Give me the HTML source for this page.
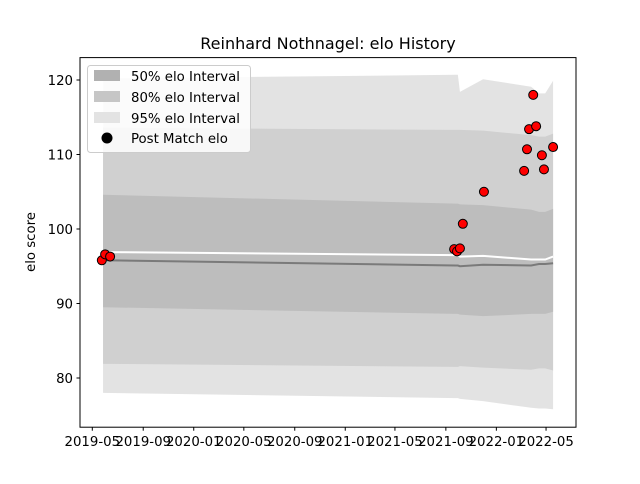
<!DOCTYPE html>
<html><head><meta charset="utf-8"><style>
body{margin:0;background:#fff;font-family:"DejaVu Sans",sans-serif}
svg text{font-family:"DejaVu Sans","Liberation Sans",sans-serif}
</style></head><body>
<svg id="c" width="640" height="480" xmlns="http://www.w3.org/2000/svg">
<rect width="640" height="480" fill="#fff"/>
<g id="plot"></g>
<rect x="80" y="57.6" width="496" height="369.6" fill="none" stroke="#000" stroke-width="1"/>
<g id="xt"></g>
<g id="yt"></g>
<text x="328" y="49" font-size="16" text-anchor="middle">Reinhard Nothnagel: elo History</text>
<text transform="translate(35,242) rotate(-90)" font-size="13.3" text-anchor="middle">elo score</text>
<g>
<rect x="87.5" y="65.5" width="163" height="87" rx="3" fill="#fff" fill-opacity="0.85" stroke="#ccc"/>
<rect x="94" y="70" width="26" height="11" fill="#b1b1b1"/>
<text x="131" y="81" font-size="13.3">50% elo Interval</text>
<rect x="94" y="91" width="26" height="11" fill="#c6c6c6"/>
<text x="131" y="102" font-size="13.3">80% elo Interval</text>
<rect x="94" y="112" width="26" height="11" fill="#e3e3e3"/>
<text x="131" y="123" font-size="13.3">95% elo Interval</text>
<circle cx="107" cy="138" r="5.5" fill="#000"/>
<text x="131" y="143" font-size="13.3">Post Match elo</text>
</g>
</svg>
<script>
const bandDays=[26,878,883,888,944,1060,1079,1094,1113];
const up95=[120.2,120.7,120.7,118.4,120.1,119.1,118.2,118.2,119.9];
const up80=[113.6,113.3,113.3,113.3,113.2,112.6,112.4,112.4,112.8];
const up50=[104.6,103.4,103.4,103.3,103.2,102.6,102.3,102.3,102.7];
const meanL=[95.8,95.1,95.1,95.0,95.2,95.1,95.3,95.3,95.4];
const postL=[96.9,96.5,96.5,96.3,96.4,95.9,95.9,95.9,96.3];
const lo50=[89.5,88.6,88.6,88.5,88.3,88.6,88.6,88.6,88.9];
const lo80=[81.9,81.5,81.5,81.6,81.4,81.1,81.3,81.3,81.0];
const lo95=[78.0,77.3,77.3,77.2,76.9,76.0,75.9,75.9,75.8];
const matchDates=["2019-05-24","2019-06-01","2019-06-13","2021-09-21","2021-09-28","2021-10-05","2021-10-12","2021-12-02","2022-03-09","2022-03-16","2022-03-21","2022-03-31","2022-04-07","2022-04-21","2022-04-26","2022-05-18"];
const matchElo=[95.8,96.6,96.3,97.3,97.0,97.4,100.7,105.0,107.8,110.7,113.4,118.0,113.8,109.9,108.0,111.0];
const xTicks=["2019-05","2019-09","2020-01","2020-05","2020-09","2021-01","2021-05","2021-09","2022-01","2022-05"];
const yTicks=[80,90,100,110,120];
const base=Date.UTC(2019,4,1);
const dayOf=s=>{const p=s.split("-");return (Date.UTC(+p[0],+p[1]-1,+(p[2]||1))-base)/864e5;};
const X=d=>92.3+d*0.414;
const Y=v=>378-(v-80)*7.45;
const NS="http://www.w3.org/2000/svg";
const plot=document.getElementById("plot");
function mk(t,a,parent){const e=document.createElementNS(NS,t);for(const k in a)e.setAttribute(k,a[k]);parent.appendChild(e);return e;}
function band(u,l,fill,name){
 let d="M"+bandDays.map((dd,i)=>X(dd)+","+Y(u[i])).join("L");
 d+="L"+bandDays.map((dd,i)=>X(dd)+","+Y(l[i])).reverse().join("L")+"Z";
 const e=mk("path",{d:d,fill:fill},plot);
 
 
}
band(up95,lo95,"#e3e3e3","band-95");
band(up80,lo80,"#d0d0d0","band-80");
band(up50,lo50,"#bdbdbd","band-50");
function line(v,col,name){
 const e=mk("polyline",{points:bandDays.map((dd,i)=>X(dd)+","+Y(v[i])).join(" "),fill:"none",stroke:col,"stroke-width":2},plot);
 
 
}
line(meanL,"#7a7a7a","mean-elo-line");
line(postL,"#ffffff","post-elo-line");
matchDates.forEach((s,i)=>{
 const c=mk("circle",{cx:X(dayOf(s)),cy:Y(matchElo[i]),r:4.5,fill:"#f00",stroke:"#000","stroke-width":1},plot);
 
 
});
const xt=document.getElementById("xt"),yt=document.getElementById("yt");
xTicks.forEach(s=>{
 const x=X(dayOf(s));
 mk("line",{x1:x,x2:x,y1:427.2,y2:430.7,stroke:"#000"},xt);
 const t=mk("text",{x:x,y:446,"font-size":13.3,"text-anchor":"middle"},xt);
 t.textContent=s;
 
 
});
yTicks.forEach(v=>{
 const y=Y(v);
 mk("line",{x1:76.5,x2:80,y1:y,y2:y,stroke:"#000"},yt);
 const t=mk("text",{x:73,y:y+4.8,"font-size":13.3,"text-anchor":"end"},yt);
 t.textContent=v;
 
 
});
</script>
</body></html>
